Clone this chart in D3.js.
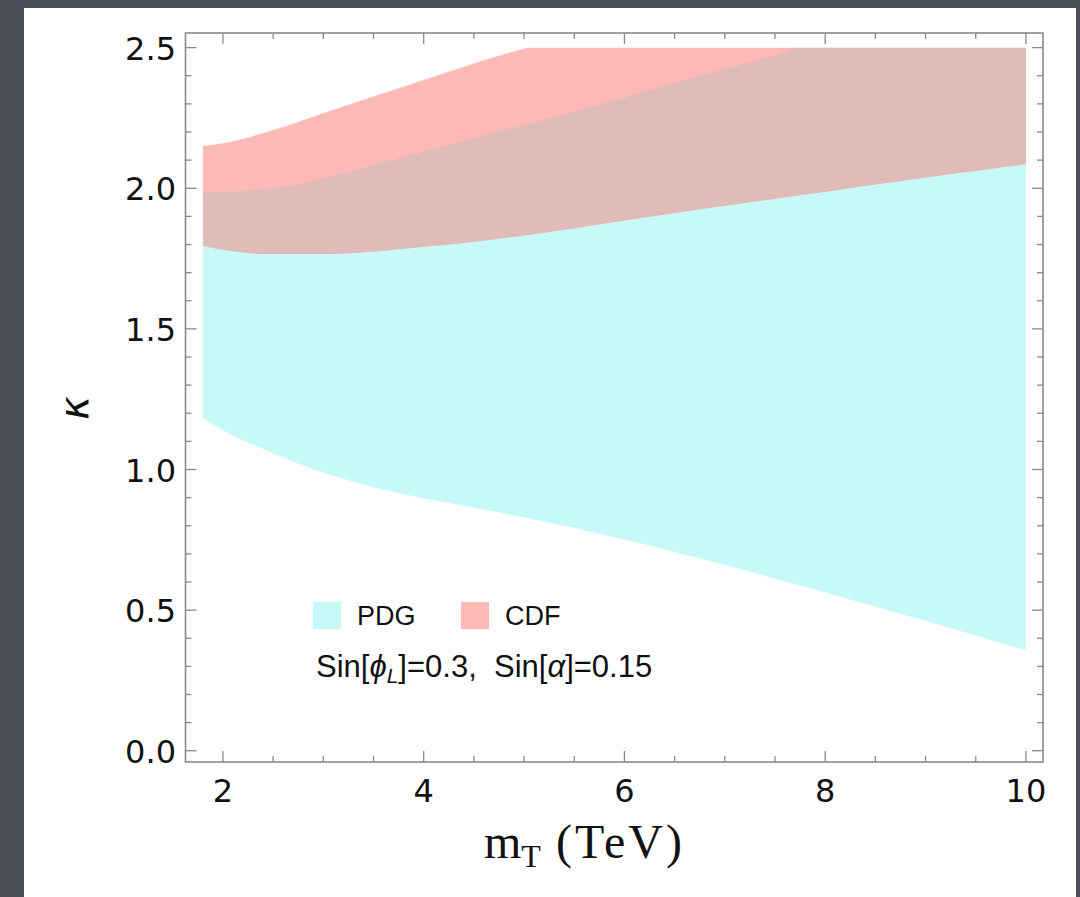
<!DOCTYPE html>
<html>
<head>
<meta charset="utf-8">
<script src="https://cdn.jsdelivr.net/npm/d3@7"></script>
<style>
  html, body { margin: 0; padding: 0; background: #4a4e58; }
  svg { display: block; }
</style>
</head>
<body>
<svg id="chart" width="1080" height="897"></svg>
<script>
// ---- data ----
const mT = [1.8, 2.0, 2.5, 3.0, 3.5, 4.0, 4.5, 5.03, 5.5, 6.0, 6.5, 7.0, 7.5, 7.72, 8.0, 8.5, 9.0, 9.5, 10.0];
const pdgLower = [1.182, 1.140, 1.058, 0.989, 0.937, 0.898, 0.864, 0.828, 0.792, 0.751, 0.707, 0.661, 0.612, 0.590, 0.563, 0.513, 0.462, 0.410, 0.358];
const pdgUpper = [1.986, 1.988, 2.000, 2.035, 2.083, 2.130, 2.178, 2.228, 2.272, 2.322, 2.374, 2.424, 2.472, 2.500, 2.500, 2.500, 2.500, 2.500, 2.500];
const cdfLower = [1.796, 1.781, 1.766, 1.766, 1.775, 1.792, 1.810, 1.834, 1.858, 1.885, 1.912, 1.938, 1.963, 1.974, 1.988, 2.013, 2.038, 2.062, 2.086];
const cdfUpper = [2.150, 2.160, 2.207, 2.267, 2.326, 2.385, 2.444, 2.500, 2.500, 2.500, 2.500, 2.500, 2.500, 2.500, 2.500, 2.500, 2.500, 2.500, 2.500];

const xMajorTicks = [2, 4, 6, 8, 10];
const yMajorTicks = [0.0, 0.5, 1.0, 1.5, 2.0, 2.5];
const seriesNames = ["PDG", "CDF"];
const xDomain = [1.627, 10.17];
const yDomain = [-0.04, 2.552];
const plotTop = 2.5; // plot range cap

// ---- layout ----
const colors = { PDG: "#c6f9f8", CDF: "#ffb9b6", overlap: "#dfbcb8" };
const frame = { left: 185.5, right: 1043, top: 33, bottom: 762 };

const svg = d3.select("#chart");
svg.append("rect").attr("x", 24).attr("y", 8).attr("width", 1052).attr("height", 889).attr("fill", "#ffffff");

const x = d3.scaleLinear().domain(xDomain).range([frame.left, frame.right]);
const y = d3.scaleLinear().domain(yDomain).range([frame.bottom, frame.top]);

const curveLine = d3.line().x(d => x(d[0])).y(d => y(d[1])).curve(d3.curveMonotoneX);
// smooth curve up to where the boundary reaches the plot cap, straight along the cap after
function pathOf(pts) {
  const i0 = pts.findIndex(p => p[1] >= plotTop);
  if (i0 < 0 || i0 === pts.length - 1) return curveLine(pts);
  let s = curveLine(pts.slice(0, i0 + 1));
  pts.slice(i0 + 1).forEach(p => { s += "L" + x(p[0]) + "," + y(p[1]); });
  return s;
}
function areaPath(xs, lo, hi) {
  const up = xs.map((m, i) => [m, hi[i]]);
  const low = xs.map((m, i) => [m, lo[i]]).reverse();
  return pathOf(up) + "L" + pathOf(low).slice(1) + "Z";
}
const pdgPath = areaPath(mT, pdgLower, pdgUpper);
const cdfPath = areaPath(mT, cdfLower, cdfUpper);

svg.append("defs").append("clipPath").attr("id", "cdfClip")
  .append("path").attr("d", cdfPath);

svg.append("path").attr("d", pdgPath).attr("fill", colors.PDG);
svg.append("path").attr("d", cdfPath).attr("fill", colors.CDF);
svg.append("path").attr("d", pdgPath).attr("fill", colors.overlap).attr("clip-path", "url(#cdfClip)");

// ---- frame & ticks ----
const axisColor = "#8a8a8a";
const g = svg.append("g");
g.append("rect")
  .attr("x", frame.left).attr("y", frame.top)
  .attr("width", frame.right - frame.left).attr("height", frame.bottom - frame.top)
  .attr("fill", "none").attr("stroke", axisColor).attr("stroke-width", 1.6);

const majLen = 11, minLen = 6;
const xMinor = d3.range(2, 10.01, 0.5).filter(v => !xMajorTicks.some(t => Math.abs(t - v) < 1e-6));
const yMinor = d3.range(0, 2.501, 0.1).filter(v => !yMajorTicks.some(t => Math.abs(t - v) < 1e-6));

function tickLines(vals, len, horiz) {
  vals.forEach(v => {
    if (horiz) {
      const px = x(v);
      g.append("line").attr("x1", px).attr("x2", px).attr("y1", frame.bottom).attr("y2", frame.bottom - len)
        .attr("stroke", axisColor).attr("stroke-width", 1.3);
      g.append("line").attr("x1", px).attr("x2", px).attr("y1", frame.top).attr("y2", frame.top + len)
        .attr("stroke", axisColor).attr("stroke-width", 1.3);
    } else {
      const py = y(v);
      g.append("line").attr("x1", frame.left).attr("x2", frame.left + len).attr("y1", py).attr("y2", py)
        .attr("stroke", axisColor).attr("stroke-width", 1.3);
      g.append("line").attr("x1", frame.right).attr("x2", frame.right - len).attr("y1", py).attr("y2", py)
        .attr("stroke", axisColor).attr("stroke-width", 1.3);
    }
  });
}
tickLines(xMajorTicks, majLen, true);
tickLines(xMinor, minLen, true);
tickLines(yMajorTicks, majLen, false);
tickLines(yMinor, minLen, false);

// tick labels
const tickFont = "'DejaVu Sans', sans-serif";
g.selectAll(".xl").data(xMajorTicks).enter().append("text")
  .attr("x", d => x(d)).attr("y", 802)
  .attr("text-anchor", "middle")
  .attr("font-family", tickFont).attr("font-size", 32).attr("fill", "#111")
  .text(d => d3.format("d")(d));
g.selectAll(".yl").data(yMajorTicks).enter().append("text")
  .attr("x", 176).attr("y", d => y(d) + 12)
  .attr("text-anchor", "end")
  .attr("font-family", tickFont).attr("font-size", 32).attr("fill", "#111")
  .text(d => d3.format(".1f")(d));

// axis titles
const serif = "'Liberation Serif', 'Times New Roman', serif";
const xt = svg.append("text")
  .attr("x", 484).attr("y", 858)
  .attr("font-family", serif)
  .attr("font-size", 48).attr("fill", "#111");
xt.append("tspan").text("m");
xt.append("tspan").attr("font-size", 32).attr("dy", 9).text("T");
xt.append("tspan").attr("x", 556).attr("dy", -9).attr("letter-spacing", 3).text("(TeV)");

svg.append("text")
  .attr("transform", "translate(88,408) rotate(-90)")
  .attr("text-anchor", "middle")
  .attr("font-family", "'DejaVu Sans', sans-serif")
  .attr("font-style", "italic")
  .attr("font-size", 40).attr("fill", "#111")
  .text("κ");

// legend
const sans = "'Liberation Sans', Arial, sans-serif";
const legendX = [313, 461];
seriesNames.forEach((name, i) => {
  svg.append("rect").attr("x", legendX[i]).attr("y", 602).attr("width", 28).attr("height", 27)
    .attr("fill", colors[name]);
  svg.append("text").attr("x", legendX[i] + 44).attr("y", 625)
    .attr("font-family", sans)
    .attr("font-size", 27).attr("fill", "#111").text(name);
});

// annotation
const ann = svg.append("text").attr("x", 316).attr("y", 677)
  .attr("font-family", sans)
  .attr("font-size", 31).attr("fill", "#111");
ann.append("tspan").text("Sin[");
ann.append("tspan").attr("font-style", "italic").text("ϕ");
ann.append("tspan").attr("font-style", "italic").attr("font-size", 21).attr("dy", 6).text("L");
ann.append("tspan").attr("dy", -6).text("]=0.3,\u00a0\u00a0Sin[");
ann.append("tspan").attr("font-style", "italic").text("α");
ann.append("tspan").text("]=0.15");
</script>
</body>
</html>
